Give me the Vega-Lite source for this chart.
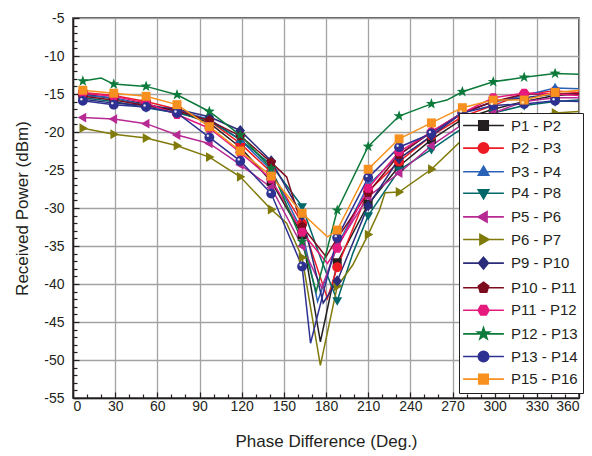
{
  "$schema": "https://vega.github.io/schema/vega-lite/v6.json",
  "autosize": {"type": "none"},
  "padding": {"left": 73, "top": 18, "right": 13, "bottom": 58},
  "width": 506,
  "height": 380,
  "background": "white",
  "config": {
    "font": "Liberation Sans",
    "view": {"stroke": "#231f20", "strokeWidth": 1.5},
    "axis": {
      "labelFont": "Liberation Sans", "titleFont": "Liberation Sans",
      "labelColor": "#231f20", "titleColor": "#231f20",
      "labelFontSize": 14, "titleFontSize": 17, "titleFontWeight": "normal",
      "domainColor": "#231f20", "domainWidth": 1.5,
      "tickColor": "#231f20", "tickWidth": 1.2,
      "gridColor": "#a3a3a3", "gridWidth": 1.3
    }
  },
  "data": {"values": [
    {"s":"P1 - P2","x":7,"y":-15.0,"m":1},{"s":"P1 - P2","x":29,"y":-15.6,"m":1},{"s":"P1 - P2","x":52,"y":-16.3,"m":1},{"s":"P1 - P2","x":74,"y":-17.3,"m":1},{"s":"P1 - P2","x":97,"y":-18.8,"m":1},{"s":"P1 - P2","x":119,"y":-22.0,"m":1},{"s":"P1 - P2","x":141,"y":-26.5,"m":1},{"s":"P1 - P2","x":163,"y":-33.5,"m":1},{"s":"P1 - P2","x":176,"y":-47.6,"m":0},{"s":"P1 - P2","x":188,"y":-37.2,"m":1},{"s":"P1 - P2","x":210,"y":-29.5,"m":1},{"s":"P1 - P2","x":232,"y":-24.5,"m":1},{"s":"P1 - P2","x":255,"y":-21.0,"m":1},{"s":"P1 - P2","x":277,"y":-18.3,"m":1},{"s":"P1 - P2","x":299,"y":-17.0,"m":1},{"s":"P1 - P2","x":321,"y":-16.0,"m":1},{"s":"P1 - P2","x":343,"y":-15.2,"m":1},{"s":"P1 - P2","x":360,"y":-15.0,"m":0},

    {"s":"P2 - P3","x":7,"y":-14.8,"m":1},{"s":"P2 - P3","x":29,"y":-15.2,"m":1},{"s":"P2 - P3","x":52,"y":-16.0,"m":1},{"s":"P2 - P3","x":74,"y":-17.0,"m":1},{"s":"P2 - P3","x":97,"y":-18.5,"m":1},{"s":"P2 - P3","x":119,"y":-21.5,"m":1},{"s":"P2 - P3","x":141,"y":-25.3,"m":1},{"s":"P2 - P3","x":163,"y":-32.0,"m":1},{"s":"P2 - P3","x":181,"y":-41.9,"m":0},{"s":"P2 - P3","x":188,"y":-37.8,"m":1},{"s":"P2 - P3","x":210,"y":-27.8,"m":1},{"s":"P2 - P3","x":232,"y":-23.9,"m":1},{"s":"P2 - P3","x":255,"y":-20.5,"m":1},{"s":"P2 - P3","x":277,"y":-18.0,"m":1},{"s":"P2 - P3","x":299,"y":-16.5,"m":1},{"s":"P2 - P3","x":321,"y":-15.0,"m":1},{"s":"P2 - P3","x":343,"y":-14.6,"m":1},{"s":"P2 - P3","x":360,"y":-14.8,"m":0},

    {"s":"P3 - P4","x":7,"y":-15.2,"m":1},{"s":"P3 - P4","x":29,"y":-15.5,"m":1},{"s":"P3 - P4","x":52,"y":-16.5,"m":1},{"s":"P3 - P4","x":74,"y":-17.2,"m":1},{"s":"P3 - P4","x":97,"y":-18.3,"m":1},{"s":"P3 - P4","x":119,"y":-21.0,"m":1},{"s":"P3 - P4","x":141,"y":-25.0,"m":1},{"s":"P3 - P4","x":163,"y":-33.0,"m":1},{"s":"P3 - P4","x":174,"y":-42.3,"m":0},{"s":"P3 - P4","x":188,"y":-35.0,"m":1},{"s":"P3 - P4","x":210,"y":-27.0,"m":1},{"s":"P3 - P4","x":232,"y":-23.0,"m":1},{"s":"P3 - P4","x":255,"y":-20.0,"m":1},{"s":"P3 - P4","x":277,"y":-17.5,"m":1},{"s":"P3 - P4","x":299,"y":-16.0,"m":1},{"s":"P3 - P4","x":321,"y":-15.2,"m":1},{"s":"P3 - P4","x":343,"y":-14.2,"m":1},{"s":"P3 - P4","x":360,"y":-14.3,"m":0},

    {"s":"P4 - P8","x":7,"y":-15.5,"m":1},{"s":"P4 - P8","x":29,"y":-16.0,"m":1},{"s":"P4 - P8","x":52,"y":-16.8,"m":1},{"s":"P4 - P8","x":74,"y":-17.5,"m":1},{"s":"P4 - P8","x":97,"y":-18.5,"m":1},{"s":"P4 - P8","x":119,"y":-21.0,"m":1},{"s":"P4 - P8","x":141,"y":-24.3,"m":1},{"s":"P4 - P8","x":163,"y":-29.8,"m":1},{"s":"P4 - P8","x":176,"y":-36.5,"m":0},{"s":"P4 - P8","x":188,"y":-42.2,"m":1},{"s":"P4 - P8","x":199,"y":-36.0,"m":0},{"s":"P4 - P8","x":210,"y":-31.0,"m":1},{"s":"P4 - P8","x":232,"y":-25.0,"m":1},{"s":"P4 - P8","x":255,"y":-22.3,"m":1},{"s":"P4 - P8","x":277,"y":-19.5,"m":1},{"s":"P4 - P8","x":299,"y":-17.5,"m":1},{"s":"P4 - P8","x":321,"y":-16.5,"m":1},{"s":"P4 - P8","x":343,"y":-16.0,"m":1},{"s":"P4 - P8","x":360,"y":-15.8,"m":0},

    {"s":"P5 - P6","x":7,"y":-18.1,"m":1},{"s":"P5 - P6","x":29,"y":-18.3,"m":1},{"s":"P5 - P6","x":52,"y":-18.9,"m":1},{"s":"P5 - P6","x":74,"y":-20.4,"m":1},{"s":"P5 - P6","x":97,"y":-21.5,"m":1},{"s":"P5 - P6","x":119,"y":-24.3,"m":1},{"s":"P5 - P6","x":141,"y":-27.3,"m":1},{"s":"P5 - P6","x":163,"y":-35.0,"m":1},{"s":"P5 - P6","x":177,"y":-40.5,"m":0},{"s":"P5 - P6","x":188,"y":-35.0,"m":1},{"s":"P5 - P6","x":210,"y":-28.5,"m":1},{"s":"P5 - P6","x":232,"y":-25.4,"m":1},{"s":"P5 - P6","x":255,"y":-21.8,"m":1},{"s":"P5 - P6","x":277,"y":-19.0,"m":1},{"s":"P5 - P6","x":299,"y":-17.5,"m":1},{"s":"P5 - P6","x":321,"y":-16.0,"m":1},{"s":"P5 - P6","x":343,"y":-15.5,"m":1},{"s":"P5 - P6","x":360,"y":-15.5,"m":0},

    {"s":"P6 - P7","x":7,"y":-19.5,"m":1},{"s":"P6 - P7","x":29,"y":-20.3,"m":1},{"s":"P6 - P7","x":52,"y":-20.8,"m":1},{"s":"P6 - P7","x":74,"y":-21.8,"m":1},{"s":"P6 - P7","x":97,"y":-23.3,"m":1},{"s":"P6 - P7","x":119,"y":-25.9,"m":1},{"s":"P6 - P7","x":141,"y":-30.2,"m":1},{"s":"P6 - P7","x":152,"y":-32.0,"m":0},{"s":"P6 - P7","x":163,"y":-36.5,"m":1},{"s":"P6 - P7","x":176,"y":-50.7,"m":0},{"s":"P6 - P7","x":188,"y":-40.3,"m":1},{"s":"P6 - P7","x":199,"y":-37.5,"m":0},{"s":"P6 - P7","x":210,"y":-33.5,"m":1},{"s":"P6 - P7","x":218,"y":-30.3,"m":0},{"s":"P6 - P7","x":222,"y":-28.0,"m":0},{"s":"P6 - P7","x":232,"y":-27.9,"m":1},{"s":"P6 - P7","x":255,"y":-24.9,"m":1},{"s":"P6 - P7","x":277,"y":-21.0,"m":1},{"s":"P6 - P7","x":299,"y":-18.8,"m":1},{"s":"P6 - P7","x":321,"y":-18.0,"m":1},{"s":"P6 - P7","x":343,"y":-17.5,"m":1},{"s":"P6 - P7","x":360,"y":-17.3,"m":0},

    {"s":"P9 - P10","x":7,"y":-15.7,"m":1},{"s":"P9 - P10","x":29,"y":-16.2,"m":1},{"s":"P9 - P10","x":52,"y":-16.5,"m":1},{"s":"P9 - P10","x":74,"y":-17.0,"m":1},{"s":"P9 - P10","x":97,"y":-18.0,"m":1},{"s":"P9 - P10","x":119,"y":-19.8,"m":1},{"s":"P9 - P10","x":141,"y":-23.8,"m":1},{"s":"P9 - P10","x":163,"y":-31.0,"m":1},{"s":"P9 - P10","x":178,"y":-42.5,"m":0},{"s":"P9 - P10","x":188,"y":-39.6,"m":1},{"s":"P9 - P10","x":210,"y":-29.7,"m":1},{"s":"P9 - P10","x":232,"y":-23.5,"m":1},{"s":"P9 - P10","x":255,"y":-20.5,"m":1},{"s":"P9 - P10","x":277,"y":-17.5,"m":1},{"s":"P9 - P10","x":299,"y":-16.0,"m":1},{"s":"P9 - P10","x":321,"y":-15.5,"m":1},{"s":"P9 - P10","x":343,"y":-15.0,"m":1},{"s":"P9 - P10","x":360,"y":-15.0,"m":0},

    {"s":"P10 - P11","x":7,"y":-15.3,"m":1},{"s":"P10 - P11","x":29,"y":-15.8,"m":1},{"s":"P10 - P11","x":52,"y":-16.5,"m":1},{"s":"P10 - P11","x":74,"y":-17.2,"m":1},{"s":"P10 - P11","x":97,"y":-18.5,"m":1},{"s":"P10 - P11","x":119,"y":-20.5,"m":1},{"s":"P10 - P11","x":141,"y":-24.0,"m":1},{"s":"P10 - P11","x":152,"y":-25.9,"m":0},{"s":"P10 - P11","x":163,"y":-32.4,"m":1},{"s":"P10 - P11","x":180,"y":-36.4,"m":0},{"s":"P10 - P11","x":188,"y":-34.0,"m":1},{"s":"P10 - P11","x":210,"y":-28.0,"m":1},{"s":"P10 - P11","x":232,"y":-23.0,"m":1},{"s":"P10 - P11","x":255,"y":-20.0,"m":1},{"s":"P10 - P11","x":277,"y":-17.5,"m":1},{"s":"P10 - P11","x":299,"y":-16.0,"m":1},{"s":"P10 - P11","x":321,"y":-15.0,"m":1},{"s":"P10 - P11","x":343,"y":-15.0,"m":1},{"s":"P10 - P11","x":360,"y":-15.0,"m":0},

    {"s":"P11 - P12","x":7,"y":-14.9,"m":1},{"s":"P11 - P12","x":29,"y":-15.3,"m":1},{"s":"P11 - P12","x":52,"y":-16.2,"m":1},{"s":"P11 - P12","x":74,"y":-17.7,"m":1},{"s":"P11 - P12","x":97,"y":-19.5,"m":1},{"s":"P11 - P12","x":119,"y":-22.7,"m":1},{"s":"P11 - P12","x":141,"y":-26.2,"m":1},{"s":"P11 - P12","x":163,"y":-33.2,"m":1},{"s":"P11 - P12","x":181,"y":-37.3,"m":0},{"s":"P11 - P12","x":188,"y":-35.3,"m":1},{"s":"P11 - P12","x":210,"y":-27.4,"m":1},{"s":"P11 - P12","x":232,"y":-22.6,"m":1},{"s":"P11 - P12","x":255,"y":-20.0,"m":1},{"s":"P11 - P12","x":277,"y":-17.5,"m":1},{"s":"P11 - P12","x":299,"y":-15.5,"m":1},{"s":"P11 - P12","x":321,"y":-14.9,"m":1},{"s":"P11 - P12","x":343,"y":-15.0,"m":1},{"s":"P11 - P12","x":360,"y":-15.2,"m":0},

    {"s":"P12 - P13","x":7,"y":-13.3,"m":1},{"s":"P12 - P13","x":20,"y":-12.9,"m":0},{"s":"P12 - P13","x":29,"y":-13.7,"m":1},{"s":"P12 - P13","x":52,"y":-14.0,"m":1},{"s":"P12 - P13","x":74,"y":-15.1,"m":1},{"s":"P12 - P13","x":97,"y":-17.3,"m":1},{"s":"P12 - P13","x":119,"y":-20.4,"m":1},{"s":"P12 - P13","x":141,"y":-24.8,"m":1},{"s":"P12 - P13","x":163,"y":-34.4,"m":1},{"s":"P12 - P13","x":173,"y":-41.0,"m":0},{"s":"P12 - P13","x":188,"y":-30.3,"m":1},{"s":"P12 - P13","x":210,"y":-21.9,"m":1},{"s":"P12 - P13","x":232,"y":-17.9,"m":1},{"s":"P12 - P13","x":255,"y":-16.3,"m":1},{"s":"P12 - P13","x":266,"y":-15.8,"m":0},{"s":"P12 - P13","x":277,"y":-14.7,"m":1},{"s":"P12 - P13","x":299,"y":-13.4,"m":1},{"s":"P12 - P13","x":321,"y":-12.8,"m":1},{"s":"P12 - P13","x":343,"y":-12.3,"m":1},{"s":"P12 - P13","x":360,"y":-12.4,"m":0},

    {"s":"P13 - P14","x":7,"y":-15.9,"m":1},{"s":"P13 - P14","x":29,"y":-16.4,"m":1},{"s":"P13 - P14","x":52,"y":-16.7,"m":1},{"s":"P13 - P14","x":74,"y":-17.5,"m":1},{"s":"P13 - P14","x":97,"y":-20.7,"m":1},{"s":"P13 - P14","x":119,"y":-23.8,"m":1},{"s":"P13 - P14","x":141,"y":-28.1,"m":1},{"s":"P13 - P14","x":163,"y":-37.7,"m":1},{"s":"P13 - P14","x":169,"y":-47.8,"m":0},{"s":"P13 - P14","x":188,"y":-33.9,"m":1},{"s":"P13 - P14","x":210,"y":-26.0,"m":1},{"s":"P13 - P14","x":232,"y":-22.0,"m":1},{"s":"P13 - P14","x":255,"y":-20.2,"m":1},{"s":"P13 - P14","x":277,"y":-17.5,"m":1},{"s":"P13 - P14","x":299,"y":-16.5,"m":1},{"s":"P13 - P14","x":321,"y":-16.3,"m":1},{"s":"P13 - P14","x":343,"y":-15.9,"m":1},{"s":"P13 - P14","x":360,"y":-16.0,"m":0},

    {"s":"P15 - P16","x":7,"y":-14.5,"m":1},{"s":"P15 - P16","x":29,"y":-14.9,"m":1},{"s":"P15 - P16","x":52,"y":-15.3,"m":1},{"s":"P15 - P16","x":74,"y":-16.4,"m":1},{"s":"P15 - P16","x":97,"y":-19.3,"m":1},{"s":"P15 - P16","x":119,"y":-22.5,"m":1},{"s":"P15 - P16","x":141,"y":-25.8,"m":1},{"s":"P15 - P16","x":163,"y":-30.7,"m":1},{"s":"P15 - P16","x":181,"y":-33.8,"m":0},{"s":"P15 - P16","x":188,"y":-32.9,"m":1},{"s":"P15 - P16","x":210,"y":-24.9,"m":1},{"s":"P15 - P16","x":232,"y":-20.9,"m":1},{"s":"P15 - P16","x":255,"y":-18.8,"m":1},{"s":"P15 - P16","x":277,"y":-16.8,"m":1},{"s":"P15 - P16","x":299,"y":-15.8,"m":1},{"s":"P15 - P16","x":321,"y":-15.8,"m":1},{"s":"P15 - P16","x":343,"y":-14.8,"m":1},{"s":"P15 - P16","x":360,"y":-14.5,"m":0}
  ]},
  "encoding": {
    "x": {"field": "x", "type": "quantitative",
      "scale": {"domain": [0, 360], "nice": false},
      "axis": {"title": "Phase Difference (Deg.)",
        "values": [0,10,20,30,40,50,60,70,80,90,100,110,120,130,140,150,160,170,180,190,200,210,220,230,240,250,260,270,280,290,300,310,320,330,340,350,360],
        "labelExpr": "datum.value % 30 === 0 ? toString(datum.value) : ''",
        "labelPadding": 7, "titlePadding": 20,
        "tickSize": {"condition": {"test": "datum.value % 30 === 0", "value": -6}, "value": -4},
        "gridOpacity": {"condition": {"test": "datum.value % 30 === 0", "value": 1}, "value": 0}}},
    "y": {"field": "y", "type": "quantitative",
      "scale": {"domain": [-55, -5], "nice": false},
      "axis": {"title": "Received Power (dBm)",
        "values": [-55,-54,-53,-52,-51,-50,-49,-48,-47,-46,-45,-44,-43,-42,-41,-40,-39,-38,-37,-36,-35,-34,-33,-32,-31,-30,-29,-28,-27,-26,-25,-24,-23,-22,-21,-20,-19,-18,-17,-16,-15,-14,-13,-12,-11,-10,-9,-8,-7,-6,-5],
        "labelExpr": "datum.value % 5 === 0 ? toString(datum.value) : ''",
        "labelPadding": 15, "titlePadding": 12,
        "tickSize": {"condition": {"test": "datum.value % 5 === 0", "value": -6}, "value": -4},
        "gridOpacity": {"condition": {"test": "datum.value % 5 === 0", "value": 1}, "value": 0}}},
    "color": {"field": "s", "type": "nominal",
      "scale": {
        "domain": ["P1 - P2","P2 - P3","P3 - P4","P4 - P8","P5 - P6","P6 - P7","P9 - P10","P10 - P11","P11 - P12","P12 - P13","P13 - P14","P15 - P16"],
        "range": ["#231f20","#ed1c24","#2a62b8","#00676b","#b72a93","#7f7a0a","#2b2b7c","#7d0b1e","#e6197d","#0b7a3a","#2e3192","#f7901e"]},
      "legend": {"title": null, "orient": "none", "legendX": 386, "legendY": 95,
        "fillColor": "white", "strokeColor": "#231f20", "padding": 5,
        "labelFont": "Liberation Sans", "labelFontSize": 15, "labelColor": "#231f20",
        "symbolSize": 90, "symbolOffset": 12, "labelOffset": 20, "rowPadding": 5.6,
        "symbolStrokeWidth": 1.6,
        "encode": {"symbols": {"update": {
          "shape": {"signal": "'M-4.3,0L4.3,0' + scale('shape', datum.value)"},
          "fill": {"signal": "scale('color', datum.value)"},
          "stroke": {"signal": "scale('color', datum.value)"},
          "strokeWidth": {"value": 1.6},
          "opacity": {"value": 1}}}}}}
  },
  "layer": [
    {"mark": {"type": "line", "strokeWidth": 1.5}},
    {"transform": [{"filter": "datum.m == 1"}],
     "mark": {"type": "point", "filled": true, "size": 80, "opacity": 1},
     "encoding": {
       "shape": {"field": "s", "type": "nominal", "legend": null,
         "scale": {
           "domain": ["P15 - P16","P13 - P14","P12 - P13","P11 - P12","P10 - P11","P9 - P10","P6 - P7","P5 - P6","P4 - P8","P3 - P4","P2 - P3","P1 - P2"],
           "range": [
             "M-1,-1L1,-1L1,1L-1,1Z",
             "M1.1,0A1.1,1.1 0 1,1 -1.1,0A1.1,1.1 0 1,1 1.1,0Z",
             "M0,-1.3L0.31,-0.42L1.24,-0.4L0.49,0.16L0.76,1.05L0,0.52L-0.76,1.05L-0.49,0.16L-1.24,-0.4L-0.31,-0.42Z",
             "M1.15,0L0.58,1L-0.58,1L-1.15,0L-0.58,-1L0.58,-1Z",
             "M0,-1.15L1.09,-0.36L0.68,0.93L-0.68,0.93L-1.09,-0.36Z",
             "M0,-1.25L1.05,0L0,1.25L-1.05,0Z",
             "M1.15,0L-0.75,-1.1L-0.75,1.1Z",
             "M-1.15,0L0.75,-1.1L0.75,1.1Z",
             "M0,1.15L1.1,-0.75L-1.1,-0.75Z",
             "M0,-1.15L1.1,0.75L-1.1,0.75Z",
             "M1.1,0A1.1,1.1 0 1,1 -1.1,0A1.1,1.1 0 1,1 1.1,0Z",
             "M-1,-1L1,-1L1,1L-1,1Z"
           ]}}
     }},
    {"transform": [{"filter": "datum.m == 1 && datum.s == 'P13 - P14'"}],
     "mark": {"type": "point", "filled": true, "size": 6, "opacity": 0.85, "xOffset": -1.5, "yOffset": -1.5, "shape": "circle"},
     "encoding": {"color": {"value": "white"}}}
  ]
}
